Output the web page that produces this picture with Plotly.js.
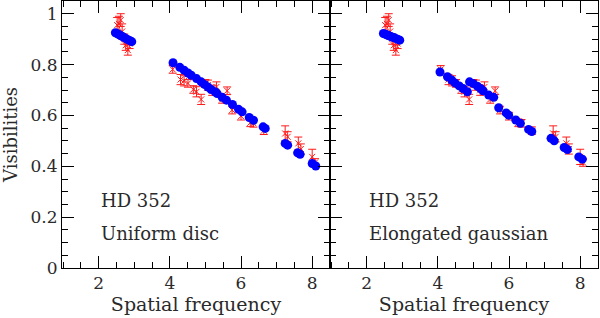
<!DOCTYPE html>
<html>
<head>
<meta charset="utf-8">
<script src="https://cdn.plot.ly/plotly-3.0.1.min.js"></script>
<style>
  html, body { margin: 0; padding: 0; background: #fff; }
  #chart { width: 600px; height: 318px; }
</style>
</head>
<body>
<div id="chart"></div>
<script>
// Observed visibilities (red, with error bars) - same data in both panels
const obsFreq = [2.52, 2.57, 2.62, 2.66, 2.72, 2.76, 2.82, 2.87,
                 4.08, 4.30, 4.40, 4.51, 4.66, 4.75, 4.88, 5.00, 5.07, 5.19, 5.31, 5.47, 5.61, 5.75,
                 6.00, 6.26, 6.35, 6.64, 7.24, 7.31, 7.61, 7.68, 8.00, 8.08];
const obsVis  = [0.955, 0.960, 0.975, 0.930, 0.900, 0.876, 0.857, 0.883,
                 0.781, 0.741, 0.736, 0.726, 0.702, 0.693, 0.663, 0.726, 0.719, 0.699, 0.712, 0.663, 0.697, 0.621,
                 0.597, 0.571, 0.569, 0.540, 0.529, 0.516, 0.490, 0.468, 0.437, 0.415];
const obsErr  = [0.030, 0.030, 0.025, 0.030, 0.020, 0.020, 0.020, 0.020,
                 0.015, 0.020, 0.020, 0.015, 0.015, 0.020, 0.020, 0.015, 0.020, 0.020, 0.020, 0.015, 0.015, 0.015,
                 0.015, 0.015, 0.015, 0.015, 0.030, 0.020, 0.025, 0.020, 0.030, 0.015];

// Uniform disc model (blue, left panel)
const udFreq = [2.47, 2.53, 2.58, 2.63, 2.68, 2.73, 2.78, 2.83, 2.88, 2.93,
                4.09, 4.28, 4.40, 4.51, 4.60, 4.75, 4.88, 4.97, 5.07, 5.16, 5.28, 5.33, 5.47, 5.59, 5.76,
                5.93, 6.03, 6.23, 6.35, 6.62, 6.68, 7.24, 7.31, 7.59, 7.66, 8.00, 8.10];
const udVis  = [0.925, 0.921, 0.917, 0.913, 0.909, 0.905, 0.901, 0.897, 0.894, 0.890,
                0.807, 0.789, 0.778, 0.767, 0.758, 0.745, 0.732, 0.722, 0.712, 0.702, 0.692, 0.686, 0.671, 0.660, 0.643,
                0.624, 0.614, 0.592, 0.581, 0.555, 0.549, 0.490, 0.483, 0.453, 0.447, 0.411, 0.401];

// Elongated gaussian model (blue, right panel)
const egFreq = [2.47, 2.53, 2.58, 2.63, 2.68, 2.73, 2.78, 2.83, 2.88, 2.93,
                4.06, 4.27, 4.39, 4.48, 4.60, 4.71, 4.83, 4.89, 4.99, 5.11, 5.20, 5.27, 5.43, 5.57, 5.71,
                5.92, 5.99, 6.19, 6.32, 6.55, 6.64, 7.18, 7.27, 7.55, 7.64, 7.96, 8.06];
const egVis  = [0.922, 0.919, 0.916, 0.913, 0.910, 0.907, 0.905, 0.902, 0.899, 0.896,
                0.771, 0.752, 0.739, 0.728, 0.716, 0.706, 0.693, 0.732, 0.726, 0.715, 0.706, 0.697, 0.680, 0.671, 0.630,
                0.610, 0.601, 0.582, 0.569, 0.545, 0.537, 0.510, 0.500, 0.474, 0.466, 0.437, 0.428];

const panelLabels = [["HD 352", "Uniform disc"], ["HD 352", "Elongated gaussian"]];
const xTitle = "Spatial frequency";
const yTitle = "Visibilities";

const FONT = "DejaVu Serif, Liberation Serif, serif";
const TXT = "#2a2a2a";
const RED = "#ff1a1a";
const BLUE = "#0000ff";

function obsTrace(xa, ya) {
  return {
    x: obsFreq, y: obsVis, xaxis: xa, yaxis: ya, type: "scatter", mode: "markers",
    marker: { symbol: "x-thin", size: 6, color: RED, line: { color: RED, width: 1 } },
    error_y: { type: "data", array: obsErr, visible: true, color: RED, thickness: 1, width: 4 },
    showlegend: false, hoverinfo: "x+y"
  };
}
function modelTrace(xs, ys, xa, ya) {
  return {
    x: xs, y: ys, xaxis: xa, yaxis: ya, type: "scatter", mode: "markers",
    marker: { symbol: "circle", size: 9, color: BLUE, line: { width: 0 } },
    showlegend: false, hoverinfo: "x+y"
  };
}

const data = [
  obsTrace("x", "y"), modelTrace(udFreq, udVis, "x", "y"),
  obsTrace("x2", "y2"), modelTrace(egFreq, egVis, "x2", "y2")
];

function xAxis(domain, anchor) {
  return {
    domain: domain, anchor: anchor, range: [0.97, 8.5],
    tick0: 0, dtick: 2, ticks: "inside", ticklen: 12, tickwidth: 1, tickcolor: "#000",
    minor: { dtick: 0.5, ticks: "inside", ticklen: 6, tickwidth: 1, tickcolor: "#000" },
    mirror: "allticks", showline: true, linecolor: "#000", linewidth: 1,
    showgrid: false, zeroline: false,
    tickfont: { family: FONT, size: 17, color: TXT },
    title: { text: xTitle, font: { family: FONT, size: 19, color: TXT }, standoff: 4 }
  };
}
function yAxis(anchor, labels) {
  return {
    anchor: anchor, range: [0, 1.05], tick0: 0, dtick: 0.2,
    ticks: "inside", ticklen: 12, tickwidth: 1, tickcolor: "#000",
    minor: { dtick: 0.05, ticks: "inside", ticklen: 6, tickwidth: 1, tickcolor: "#000" },
    mirror: "allticks", showline: true, linecolor: "#000", linewidth: 1,
    showgrid: false, zeroline: false, showticklabels: labels,
    tickfont: { family: FONT, size: 17, color: TXT }
  };
}

const yax = yAxis("x", true);
yax.title = { text: yTitle, font: { family: FONT, size: 18, color: TXT }, standoff: 9 };
const yax2 = yAxis("x2", false);
yax2.matches = "y";

function ann(text, xref, yref, y) {
  return { text: text, xref: xref, yref: yref, x: 2.0, y: y, xanchor: "left", yanchor: "middle",
           showarrow: false, font: { family: FONT, size: 18, color: TXT } };
}

const layout = {
  width: 600, height: 318,
  margin: { l: 62, r: 2, t: 1, b: 50 },
  paper_bgcolor: "#fff", plot_bgcolor: "#fff",
  xaxis: xAxis([0, 0.5], "y"),
  xaxis2: xAxis([0.5, 1], "y2"),
  yaxis: yax, yaxis2: yax2,
  annotations: [
    ann(panelLabels[0][0], "x", "y", 0.267), ann(panelLabels[0][1], "x", "y", 0.137),
    ann(panelLabels[1][0], "x2", "y2", 0.267), ann(panelLabels[1][1], "x2", "y2", 0.137)
  ]
};

Plotly.newPlot("chart", data, layout, { staticPlot: true, displayModeBar: false });
</script>
</body>
</html>
